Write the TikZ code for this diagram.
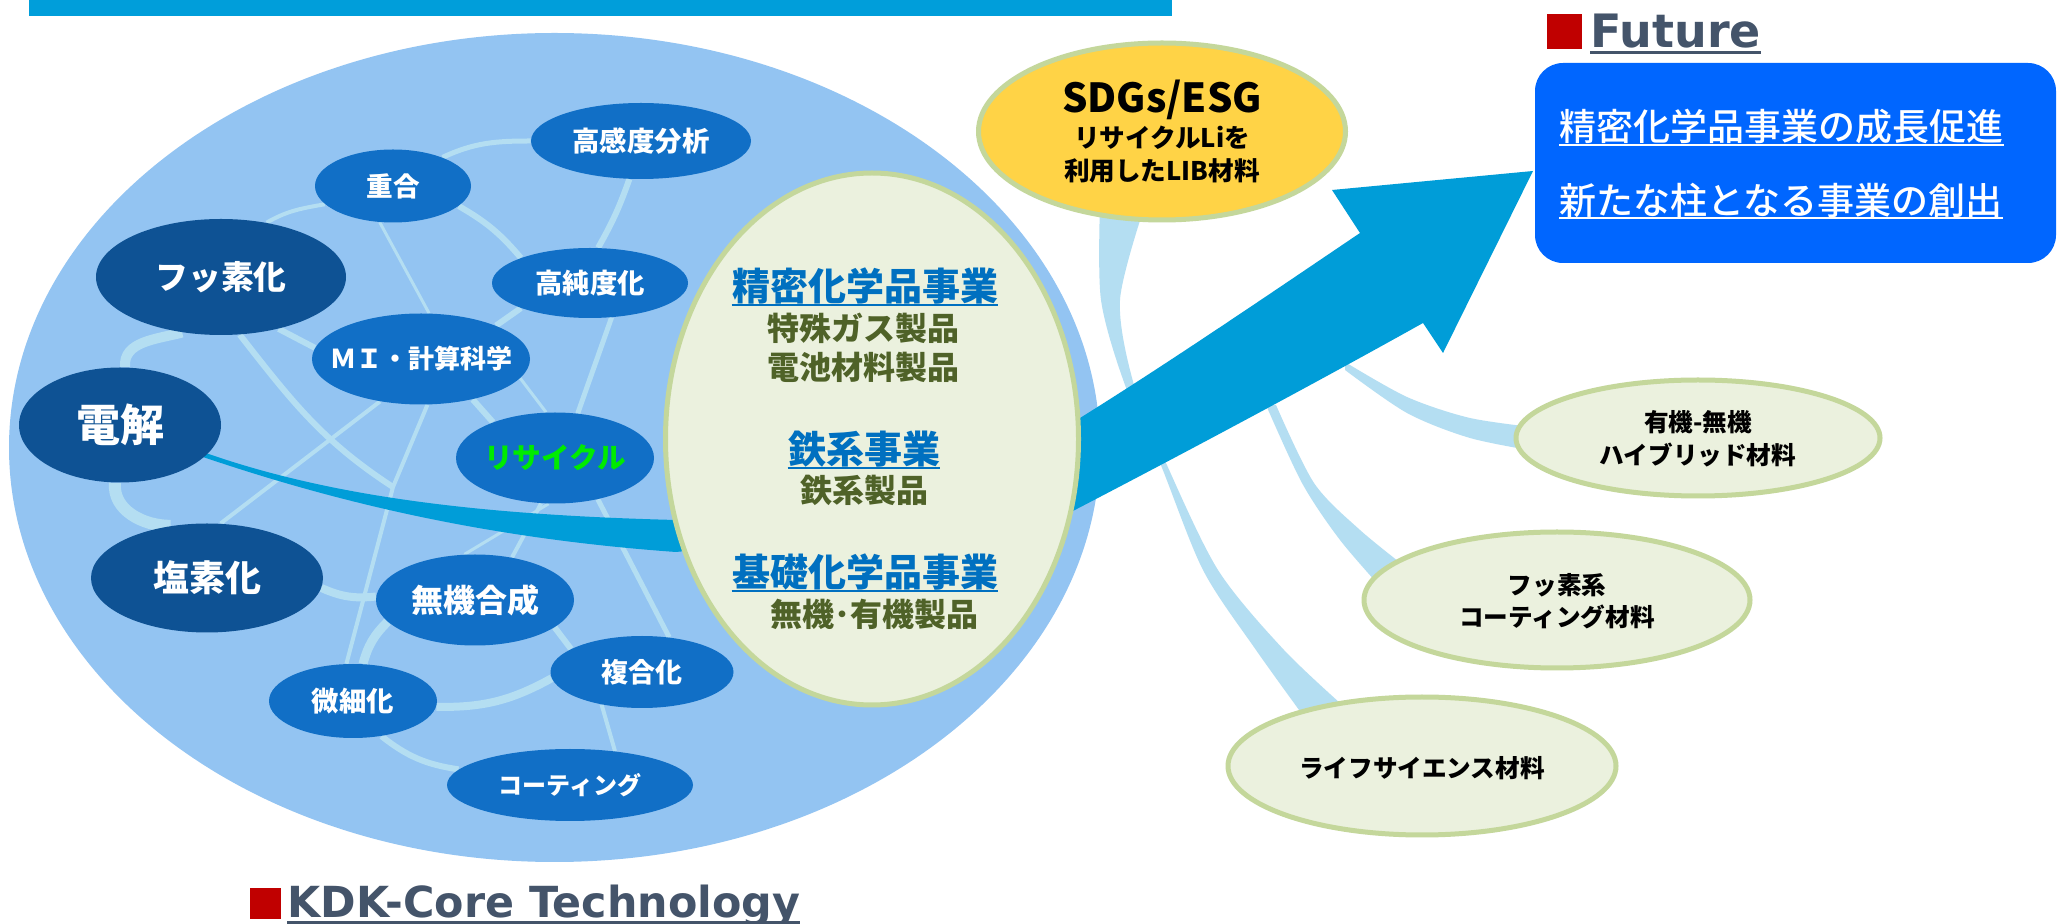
\documentclass[tikz,border=0pt]{standalone}
\usepackage{fontspec}
\usetikzlibrary{shapes.geometric}
\newfontfamily\jp{Noto Sans CJK JP}
\newfontfamily\jpm{Noto Sans CJK JP Medium}
\newfontfamily\dv{DejaVu Sans}
\definecolor{barblue}{RGB}{0,158,218}
\definecolor{bigblue}{RGB}{147,196,242}
\definecolor{dkblue}{RGB}{14,82,148}
\definecolor{mdblue}{RGB}{17,111,198}
\definecolor{lkblue}{RGB}{180,222,242}
\definecolor{arrblue}{RGB}{0,157,216}
\definecolor{creamfill}{RGB}{235,241,222}
\definecolor{creamline}{RGB}{196,215,155}
\definecolor{sdgfill}{RGB}{255,211,70}
\definecolor{futblue}{RGB}{0,102,255}
\definecolor{headcol}{RGB}{68,84,106}
\definecolor{sqred}{RGB}{192,0,0}
\definecolor{olivetxt}{RGB}{79,98,40}
\definecolor{linkblue}{RGB}{0,112,192}
\definecolor{recgreen}{RGB}{0,235,0}
\pgfdeclarelayer{back}
\pgfdeclarelayer{mid}
\pgfsetlayers{back,mid,main}
\newcommand\fs[1]{\fontsize{#1}{#1}\selectfont}
\tikzset{
 dk/.style={ellipse, fill=dkblue, inner sep=0},
 md/.style={ellipse, fill=mdblue, inner sep=0},
 wt/.style={inner sep=0, text=white},
 lk/.style={draw=lkblue},
 cr/.style={ellipse, fill=creamfill, draw=creamline, line width=2.5pt, inner sep=0},
 tx/.style={inner sep=0},
 hd/.style={tx, text=linkblue, font=\jp\bfseries\fs{19}},
 sb/.style={tx, text=olivetxt, font=\jp\bfseries\fs{16}},
 gt/.style={tx, font=\jp\bfseries\fs{12.3}},
 ft/.style={tx, text=white, font=\jpm\fs{18.5}, anchor=west},
 ul/.style={line width=1pt},
}
\begin{document}
\begin{tikzpicture}[x=0.5pt,y=-0.5pt]
\useasboundingbox (0,0) rectangle (2058,924);
\begin{pgfonlayer}{back}
\fill[white] (0,0) rectangle (2058,924);
\fill[bigblue] (554.5,447.5) ellipse [x radius=545.5, y radius=414.5];
\end{pgfonlayer}

% top bar
\fill[barblue] (29,0) rectangle (1172,16);

% main arrow
\fill[arrblue] (203,452) .. controls (330,497) and (480,515) .. (676,520)
  -- (1080,418) .. controls (1170,362) and (1280,287) .. (1360,233)
  -- (1332,190) -- (1533,171) -- (1443,353) -- (1423,323)
  .. controls (1330,375) and (1200,445) .. (1071,512)
  -- (676,552) .. controls (480,538) and (330,500) .. (203,457) -- cycle;

% technology nodes
\node[dk, minimum width=125pt, minimum height=58pt] (fusso) at (221,277) {};
\node[wt, font=\jp\bfseries\fs{16.4}] at (fusso) {フッ素化};
\node[dk, minimum width=101pt, minimum height=57.5pt] (denkai) at (120,425) {};
\node[wt, font=\jp\bfseries\fs{22}] at (denkai) {電解};
\node[dk, minimum width=116pt, minimum height=54.5pt] (ensoka) at (207,578) {};
\node[wt, font=\jp\bfseries\fs{18}] at (ensoka) {塩素化};
\node[md, minimum width=78pt, minimum height=36.5pt] (jugo) at (393,186) {};
\node[wt, font=\jp\bfseries\fs{13.3}] at (jugo) {重合};
\node[md, minimum width=110pt, minimum height=38pt] (koukan) at (641,141) {};
\node[wt, font=\jp\bfseries\fs{13.7}] at (koukan) {高感度分析};
\node[md, minimum width=98pt, minimum height=35pt] (koujun) at (590,283) {};
\node[wt, font=\jp\bfseries\fs{13.7}] at (koujun) {高純度化};
\node[md, minimum width=109pt, minimum height=45.5pt] (mi) at (421,359) {};
\node[wt, font=\jp\bfseries\fs{13}] at (mi) {ＭＩ・計算科学};
\node[md, minimum width=99pt, minimum height=45.5pt] (recycle) at (555,458) {};
\node[wt, text=recgreen, font=\jp\bfseries\fs{14.3}] at (recycle) {リサイクル};
\node[md, minimum width=99pt, minimum height=45.5pt] (muki) at (475,600) {};
\node[wt, font=\jp\bfseries\fs{16}] at (muki) {無機合成};
\node[md, minimum width=84pt, minimum height=37pt] (bisai) at (353,701) {};
\node[wt, font=\jp\bfseries\fs{13.7}] at (bisai) {微細化};
\node[md, minimum width=91.5pt, minimum height=36pt] (fukugo) at (642,672) {};
\node[wt, font=\jp\bfseries\fs{13.5}] at (fukugo) {複合化};
\node[md, minimum width=123pt, minimum height=36pt] (coat) at (570,785) {};
\node[wt, font=\jp\bfseries\fs{12}] at (coat) {コーティング};
\coordinate (jx) at (393,487);

% business ellipse
\node[cr, minimum width=206.5pt, minimum height=266pt] (cream) at (872,439) {};
\node[hd] (b1) at (865,286) {精密化学品事業};
\draw[linkblue, ul] (b1.south west) -- (b1.south east);
\node[sb] (s1) at (863,328) {特殊ガス製品};
\node[sb] (s2) at (863,367) {電池材料製品};
\node[hd] (b2) at (864,449) {鉄系事業};
\draw[linkblue, ul] (b2.south west) -- (b2.south east);
\node[sb] (s3) at (864,490) {鉄系製品};
\node[hd] (b3) at (865,572) {基礎化学品事業};
\draw[linkblue, ul] (b3.south west) -- (b3.south east);
\node[sb] (s4) at (874,614) {無機･有機製品};

% SDGs
\node[ellipse, fill=sdgfill, draw=creamline, line width=2.5pt, inner sep=0, minimum width=183.5pt, minimum height=88.5pt] (sdg) at (1162,131.5) {};
\node[tx, font=\jp\bfseries\fs{20}] (sd1) at (1162,100) {SDGs/ESG};
\node[tx, font=\jp\bfseries\fs{12.8}] (sd2) at (1162,138) {リサイクルLiを};
\node[tx, font=\jp\bfseries\fs{12.8}] (sd3) at (1162,171) {利用したLIB材料};

% Future box
\fill[futblue, rounded corners=14pt] (1535,63) rectangle (2056,263);
\node[ft] (f1) at (1559,127) {精密化学品事業の成長促進};
\draw[white, ul] (f1.south west) -- (f1.south east);
\node[ft] (f2) at (1559,200) {新たな柱となる事業の創出};
\draw[white, ul] (f2.south west) -- (f2.south east);

% future materials
\node[cr, minimum width=182pt, minimum height=58pt] (yuki) at (1698,438) {};
\node[gt] at (1698,422) {有機-無機};
\node[gt] at (1698,455) {ハイブリッド材料};
\node[cr, minimum width=193pt, minimum height=68pt] (fkei) at (1557,600) {};
\node[gt] at (1557,585) {フッ素系};
\node[gt] at (1557,617) {コーティング材料};
\node[cr, minimum width=194pt, minimum height=69pt] (life) at (1422,766) {};
\node[gt] at (1422,768) {ライフサイエンス材料};

% headings
\fill[sqred] (250,888) rectangle (281,919);
\node[anchor=base west, inner sep=0, font=\dv\bfseries\fs{21.4}, text=headcol] (kdk) at (287,917) {KDK-Core Technology};
\draw[headcol, line width=1.5pt] ([yshift=-3pt]kdk.base west) -- ([yshift=-3pt]kdk.base east);
\fill[sqred] (1547,14) rectangle (1582,49);
\node[anchor=base west, inner sep=0, font=\dv\bfseries\fs{23}, text=headcol] (fut) at (1590,48) {Future};
\draw[headcol, line width=1.5pt] ([yshift=-2.5pt]fut.base west) -- ([yshift=-2.5pt]fut.base east);

% connectors
\begin{pgfonlayer}{mid}
\draw[lk, line width=2.5pt] (jugo.30) to[out=25,in=180] (koukan.west);
\draw[lk, line width=2pt] (jugo.195) to[out=190,in=30] (fusso.50);
\draw[lk, line width=1.5pt] (jugo.250) -- (mi.80);
\draw[lk, line width=3pt] (jugo.343) to[bend left=10] (koujun.160);
\draw[lk, line width=3pt] (koukan.253) to[bend left=5] (koujun.77);
\draw[lk, line width=3pt] (koujun.200) -- (mi.24);
\draw[lk, line width=2.5pt] (koujun.302) -- (recycle.63);
\draw[lk, line width=1.5pt] (mi.349) -- (recycle.101);
\draw[lk, line width=3pt] (mi.322) -- (recycle.150);
\draw[lk, line width=2pt, line join=round] (mi.278) -- (jx) -- (bisai.100);
\draw[lk, line width=2pt] (mi.226) -- (ensoka.76);
\draw[lk, line width=3pt] (fusso.288) to[out=-52,in=147] (jx);
\draw[lk, line width=3pt] (fusso.318) -- (mi.174);
\draw[lk, line width=5pt] (fusso.235) to[out=195,in=95] (denkai.85);
\draw[lk, line width=6pt] (denkai.265) to[out=265,in=180] (ensoka.125);
\draw[lk, line width=4pt] (ensoka.355) to[bend right=15] (muki.178);
\draw[lk, line width=4.5pt] (muki.194) to[bend right=15] (bisai.75);
\draw[lk, line width=4pt] (bisai.356) to[bend right=15] (fukugo.184);
\draw[lk, line width=3pt] (muki.341) -- (fukugo.162);
\draw[lk, line width=2.5pt] (recycle.316) -- (fukugo.52);
\draw[lk, line width=2pt] (fukugo.219) -- (coat.37);
\draw[lk, line width=3pt] (bisai.309) to[bend right=15] (coat.172);
\draw[lk, line width=2pt] (recycle.253) -- (muki.49);
\draw[lk, line width=1.5pt] (recycle.262) -- (muki.103);
% outer bands
\fill[lkblue] plot[smooth] coordinates {(1100,205) (1101,300) (1125,385) (1160,463) (1203,570) (1256,650) (1310,725)}
  -- plot[smooth] coordinates {(1350,712) (1284,650) (1218,570) (1166,463) (1134,385) (1120,300) (1145,205)} -- cycle;
\fill[lkblue] plot[smooth] coordinates {(1266,405) (1302,483) (1340,540) (1385,592)}
  -- plot[smooth] coordinates {(1412,572) (1360,530) (1314,483) (1276,405)} -- cycle;
\fill[lkblue] plot[smooth] coordinates {(1345,362) (1407,397) (1470,418) (1540,428)}
  -- plot[smooth] coordinates {(1540,452) (1470,438) (1407,413) (1345,370)} -- cycle;
\end{pgfonlayer}
\end{tikzpicture}
\end{document}
